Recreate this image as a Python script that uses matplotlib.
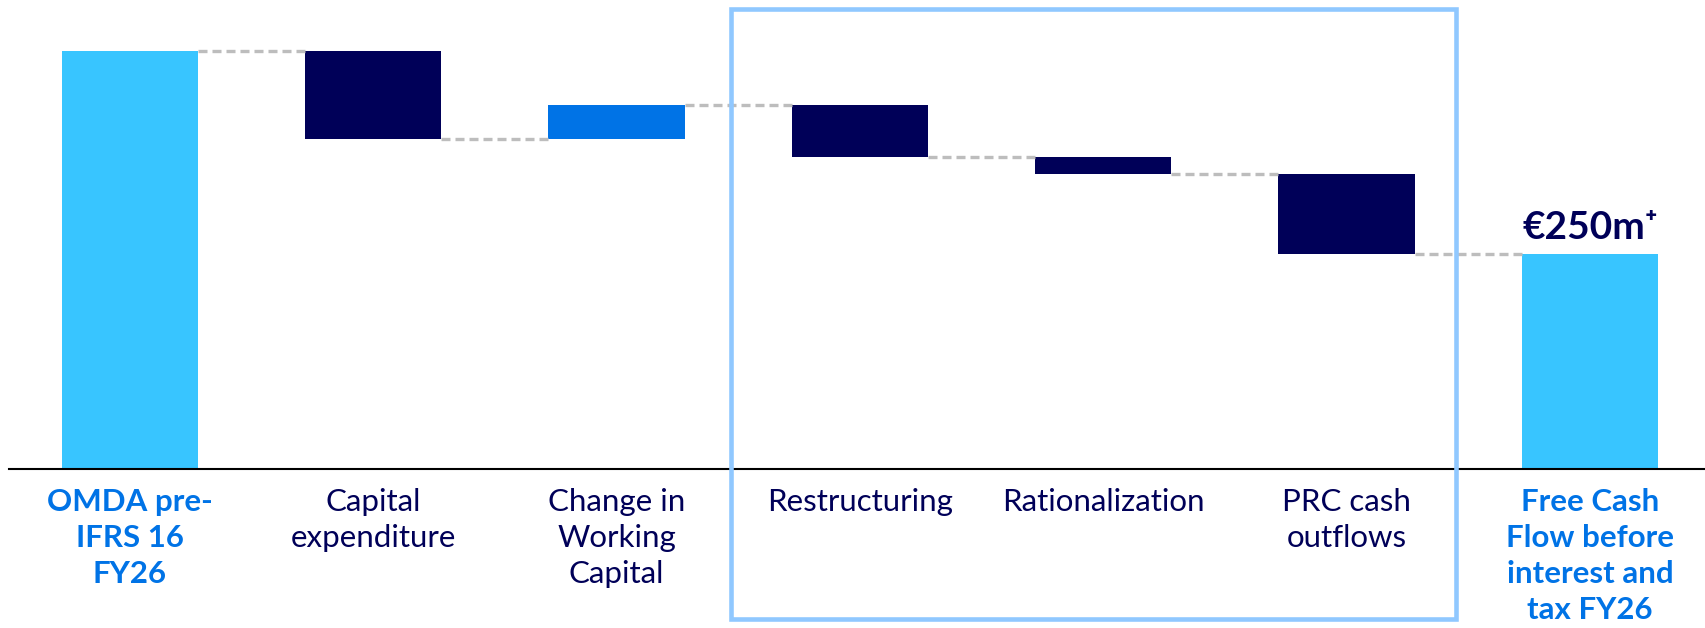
import matplotlib.pyplot as plt
from matplotlib.patches import Rectangle

# Данные водопада, млн евро
categories = ['OMDA pre-\nIFRS 16\nFY26', 'Capital\nexpenditure', 'Change in\nWorking\nCapital',
              'Restructuring', 'Rationalization', 'PRC cash\noutflows',
              'Free Cash\nFlow before\ninterest and\ntax FY26']
deltas = [485, -102, 39, -60, -20, -92]
total_label = '€250m⁺'

c_total = '#38C5FF'
c_down = '#000058'
c_up = '#0073E6'
c_dash = '#BDBDBD'
c_box = '#90C8FF'

plt.rcParams['font.family'] = ['Lato', 'DejaVu Sans']

fig = plt.figure(figsize=(17.06, 6.28), dpi=100)
ax = fig.add_axes([0, 0, 1, 1])
ax.set_xlim(-0.534, 6.477)
ax.set_ylim(-184.0, 544.0)
ax.axis('off')

w = 0.56
level = 0
tops = []
for i, d in enumerate(deltas):
    if i == 0:
        ax.bar(i, d, width=w, color=c_total)
    else:
        ax.bar(i, abs(d), bottom=min(level, level + d), width=w,
               color=c_up if d > 0 else c_down)
    level += d
    tops.append(level)

total = level
n = len(categories) - 1
ax.bar(n, total, width=w, color=c_total)

# пунктирные соединители между столбцами
for i, lv in enumerate(tops):
    ax.plot([i + w / 2, i + 1 - w / 2], [lv, lv], color=c_dash, lw=2.4,
            dashes=(2.7, 1.5), solid_capstyle='butt')

# базовая линия
ax.axhline(0, xmin=9 / 1706, xmax=1, color='black', lw=1.5)

# подписи категорий
for i, lab in enumerate(categories):
    bold = i in (0, n)
    ax.text(i, -22, lab, ha='center', va='top', fontsize=22.5,
            color=c_up if bold else c_down,
            fontweight='bold' if bold else 'normal', linespacing=1.34)

ax.text(n, 267, total_label, ha='center', va='baseline', fontsize=28,
        fontweight='bold', color=c_down)

# рамка вокруг статей реструктуризации
ax.add_patch(Rectangle((2.47, -174.0), 5.45 - 2.47, 533 + 174.0, fill=False,
                       edgecolor=c_box, lw=3.3, zorder=5))

fig.savefig('out.png', dpi=100)
